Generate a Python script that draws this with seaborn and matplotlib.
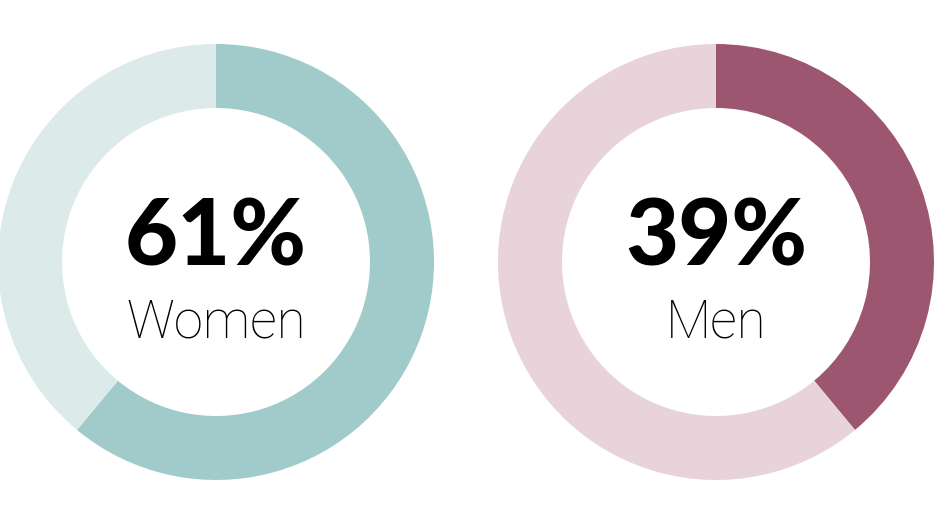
import matplotlib
matplotlib.use("Agg")
import matplotlib.pyplot as plt
import seaborn as sns

groups = ["Women", "Men"]
shares = [61, 39]
labels = ["61%", "39%"]
main_colors = ["#a0cbca", "#9c566f"]
rest_colors = ["#dceaea", "#e8d3da"]

sns.set_theme(style="white")
plt.rcParams['font.family'] = ['Lato', 'DejaVu Sans']

W, H = 934, 525
fig = plt.figure(figsize=(W / 100, H / 100), dpi=100)
ax = fig.add_axes([0, 0, 1, 1])

centers = [(216, H - 262), (716, H - 262)]
R = 218
ring = 64
for i, g in enumerate(groups):
    v = shares[i]
    ax.pie([v, 100 - v], colors=[main_colors[i], rest_colors[i]],
           startangle=90, counterclock=False, center=centers[i], radius=R,
           wedgeprops=dict(width=ring, linewidth=0), frame=True)
    cx, cy = centers[i]
    ax.text(cx, cy + 22, labels[i], ha='center', va='center', fontsize=66,
            fontweight='black', color='black')
    ax.text(cx, cy - 61, g, ha='center', va='center', fontsize=38,
            fontweight='light', color='black', family=['Roboto', 'DejaVu Sans'])

ax.set_xlim(0, W)
ax.set_ylim(0, H)
ax.set_aspect('equal')
ax.axis('off')
fig.savefig("out.png", dpi=100)
